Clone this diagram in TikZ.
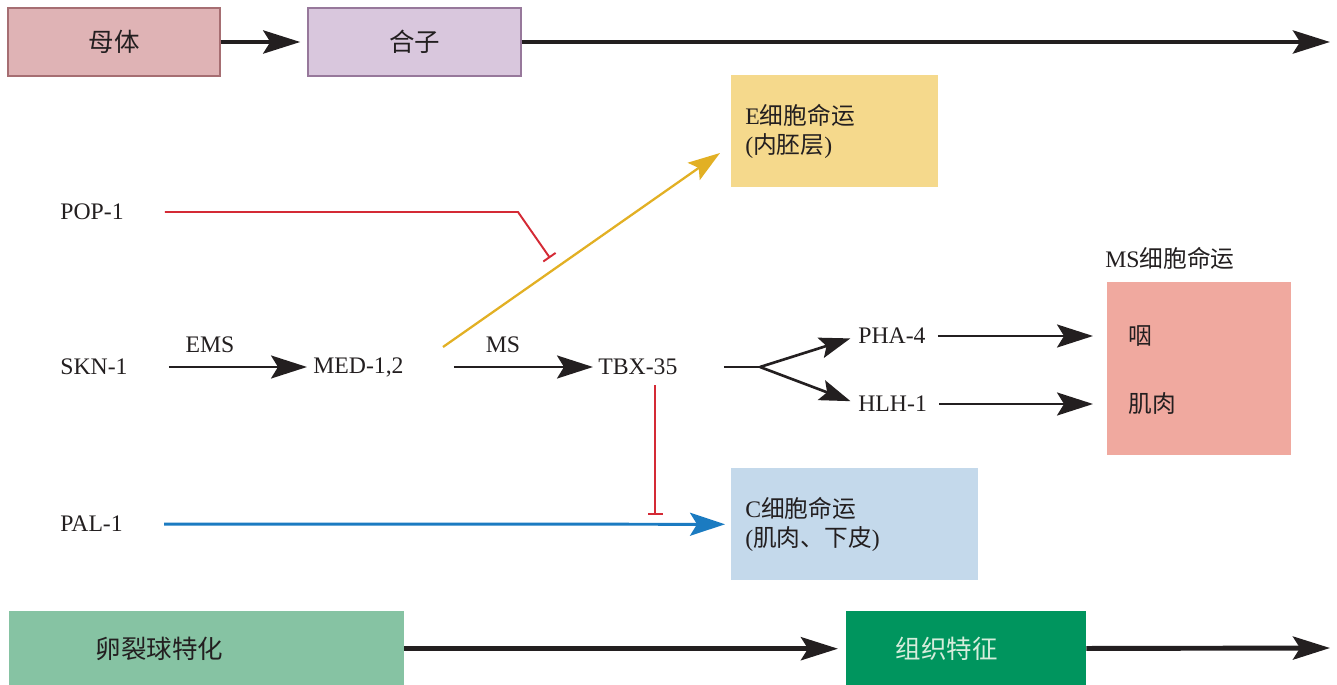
\documentclass[tikz,border=0pt]{standalone}
\usepackage{fontspec}
\setmainfont{Liberation Serif}
\newfontfamily\cjk{Noto Sans CJK SC}
\usetikzlibrary{positioning}
\usetikzlibrary{calc}
\usetikzlibrary{arrows.meta}

\definecolor{motherpink}{HTML}{DFB3B5}
\definecolor{motherrim}{HTML}{A66E72}
\definecolor{zygotelilac}{HTML}{D9C7DD}
\definecolor{zygoterim}{HTML}{97789B}
\definecolor{endoyellow}{HTML}{F5D98C}
\definecolor{msred}{HTML}{F0A99F}
\definecolor{ectoblue}{HTML}{C4D9EB}
\definecolor{cleavegreen}{HTML}{86C3A3}
\definecolor{tissuegreen}{HTML}{00955E}
\definecolor{tissuetext}{HTML}{D6EDDC}
\definecolor{inhibred}{HTML}{D42A35}
\definecolor{endogold}{HTML}{E2B024}
\definecolor{ectoline}{HTML}{1B7BC1}
\definecolor{ink}{HTML}{231F20}

\begin{document}
\begin{tikzpicture}[x=0.02cm,y=-0.02cm,text=ink,font=\fontsize{13.5}{16.5}\selectfont,
  lbl/.style={inner sep=0pt,anchor=west},
  stage/.style={draw,line width=0.8pt,minimum height=1.36cm,font=\cjk\fontsize{14.5}{17}\selectfont},
  fate/.style={anchor=north west,align=left,inner ysep=0pt},
  timeline/.style={draw=ink,line width=2.8pt,-{Stealth[length=0.74cm,width=0.46cm,inset=0.14cm]}},
  act/.style={draw=ink,line width=1.5pt,-{Stealth[length=0.72cm,width=0.46cm,inset=0.14cm]}},
  fan/.style={draw=ink,line width=1.5pt,-{Stealth[length=0.62cm,width=0.42cm,inset=0.12cm]}},
  inhib/.style={draw=inhibred,line width=1.1pt,-{Bar[width=0.3cm]}},
  endo/.style={draw=endogold,line width=1.3pt,-{Stealth[length=0.64cm,width=0.42cm,inset=0.12cm]}},
  ecto/.style={draw=ectoline,line width=1.7pt,-{Stealth[length=0.7cm,width=0.46cm,inset=0.14cm]}}]
\useasboundingbox (0,0) rectangle (1337,685);

\node[stage,fill=motherpink,draw=motherrim,minimum width=4.24cm](mother) at (114,42){母体};
\node[stage,fill=zygotelilac,draw=zygoterim,minimum width=4.26cm](zygote) at (414.5,42){合子};
\coordinate (topEnd) at (1330,42);

\node[fate,fill=endoyellow,minimum height=2.24cm,text width=3.58cm,inner xsep=0.28cm](Efate) at (731,75){E{\cjk 细胞命运}\\({\cjk 内胚层})};
\node[fate,fill=msred,minimum width=3.68cm,minimum height=3.46cm](MSfate) at (1107,282){};
\node[lbl](MSlabel) at (1105,258){MS{\cjk 细胞命运}};
\node[lbl](pharynx) at (1128,336){\cjk 咽};
\node[lbl](muscle) at (1128,404){\cjk 肌肉};
\node[fate,fill=ectoblue,minimum height=2.24cm,text width=4.38cm,inner xsep=0.28cm](Cfate) at (731,468){C{\cjk 细胞命运}\\({\cjk 肌肉、下皮})};

\node[stage,draw=none,fill=cleavegreen,anchor=north west,minimum height=1.52cm,text width=4.42cm,inner xsep=1.74cm,align=left](cleave) at (8,610){卵裂球特化};
\node[stage,draw=none,fill=tissuegreen,text=tissuetext,anchor=north west,minimum height=1.52cm,text width=2.8cm,inner xsep=1cm,align=left](tissue) at (845,610){组织特征};
\coordinate (bottomEnd) at (1330,648);

\node[lbl](POP1) at (60,212){POP-1};
\node[lbl](SKN1) at (60,367){SKN-1};
\node[lbl](PAL1) at (60,524){PAL-1};
\node[lbl](MED) at (313,367){MED-1,2};
\node[lbl](TBX) at (598,367){TBX-35};
\node[lbl](PHA) at (858,336){PHA-4};
\node[lbl](HLH) at (858,404){HLH-1};
\node[](EMS) at (210,345){EMS};
\node[](MS) at (503,345){MS};

\coordinate (fork) at (760,367);
\coordinate (split) at (443,347);
\coordinate (Etip) at (720,153);
\coordinate (popBend) at (518,212);
\coordinate (Ebar) at (550,258);
\coordinate (Cbar) at (655,515);

\path
(mother) edge[timeline,shorten >=0.14cm] (zygote)
(zygote) edge[timeline] (topEnd)
(cleave) edge[timeline,shorten >=0.14cm] (tissue)
(tissue) edge[timeline] (bottomEnd)
(SKN1) edge[act,shorten <=0.82cm,shorten >=0.12cm] (MED)
(MED) edge[act,shorten <=1.0cm,shorten >=0.1cm] (TBX)
(fork) edge[fan,shorten >=0.16cm] (PHA.west)
(fork) edge[fan,shorten >=0.16cm] (HLH.west)
(PHA) edge[act,shorten <=0.24cm,shorten >=0.7cm] (pharynx)
(HLH) edge[act,shorten <=0.24cm,shorten >=0.7cm] (muscle)
(split) edge[endo] (Etip)
(PAL1) edge[ecto,shorten <=0.82cm,shorten >=0.12cm] (Cfate);

\draw[draw=ink,line width=1.5pt,shorten <=0.92cm] (TBX) -- (fork);
\draw[inhib,shorten <=0.82cm] (POP1.east) -- (popBend) -- (Ebar);
\draw[inhib,shorten <=0.2cm] (TBX.south -| Cbar) -- (Cbar);
\end{tikzpicture}
\end{document}
